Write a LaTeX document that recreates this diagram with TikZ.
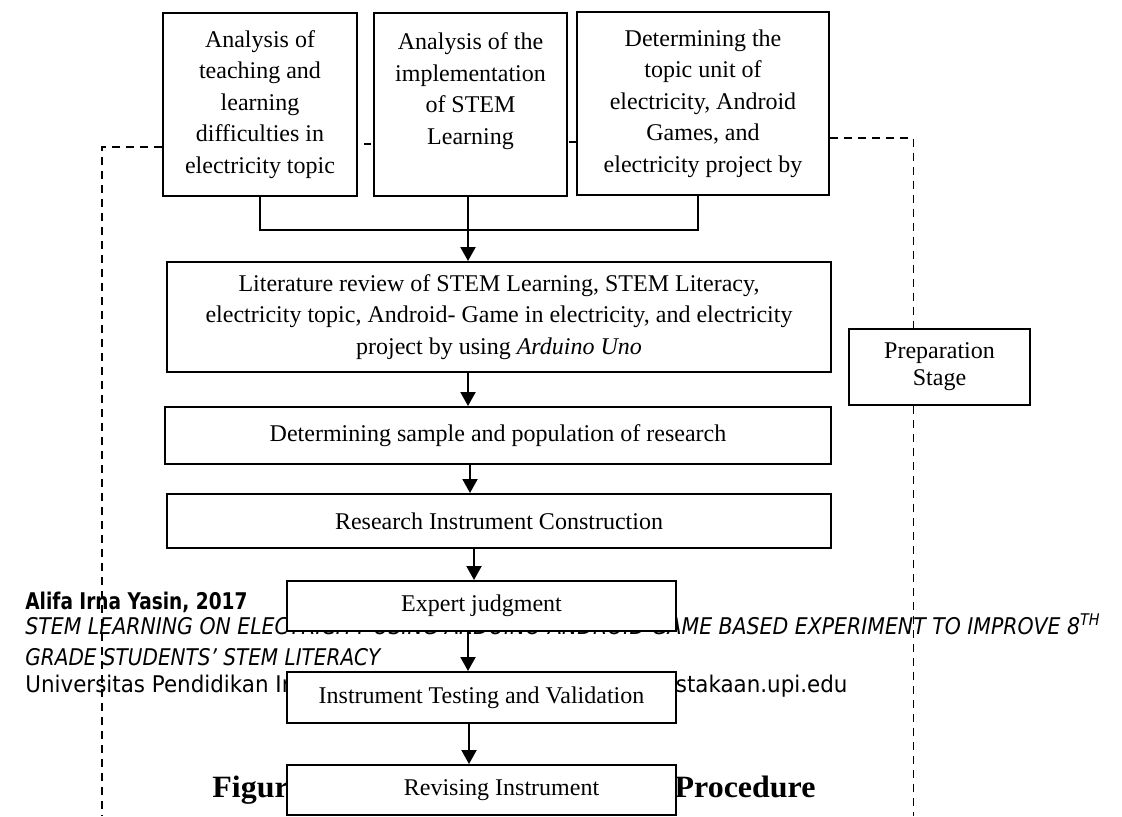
\documentclass[tikz,border=0pt]{standalone}
\usepackage{fontspec}
\usepackage{graphicx}
\setmainfont{Liberation Serif}
\newfontfamily\footfont{DejaVu Sans}
\usetikzlibrary{arrows.meta}
\newcommand\fitw[2]{\resizebox{#1}{\height}{#2}}
\begin{document}
\begin{tikzpicture}[x=0.5pt,y=-0.5pt,
  box/.style={draw,line width=1pt,fill=white,align=center,inner sep=0pt,
    font=\fontsize{12}{15.75}\selectfont},
  conn/.style={line width=1pt},
  arr/.style={line width=1pt,-{Triangle[width=7.5pt,length=7pt]}},
  dashline/.style={line width=0.75pt,dash pattern=on 4pt off 3pt},
  foot/.style={anchor=base west,inner sep=0pt}]
\fill[white] (0,0) rectangle (1122,816);
\useasboundingbox (0,0) rectangle (1122,816);

% page footer text lying under the figure
\node[foot] (f1) at (25,609) {\fitw{111pt}{\footfont\bfseries\fontsize{11.5}{14}\selectfont Alifa Irna Yasin, 2017}};
\node[foot] (f2) at (25,634) {\fitw{537.5pt}{\footfont\itshape\fontsize{11.5}{14}\selectfont STEM LEARNING ON ELECTRICITY USING ARDUINO ANDROID GAME BASED EXPERIMENT TO IMPROVE 8\textsuperscript{TH}}};
\node[foot] (f3) at (25,665) {\fitw{177.5pt}{\footfont\itshape\fontsize{11.5}{14}\selectfont GRADE STUDENTS’ STEM LITERACY}};
\node[foot] (f4) at (25,692) {\fitw{411pt}{\footfont\fontsize{11.5}{14}\selectfont Universitas Pendidikan Indonesia | repository.upi.edu | perpustakaan.upi.edu}};
\node[foot] (cap) at (212,797) {\fitw{301.5pt}{\fontsize{15.5}{18}\selectfont\bfseries Figure 3.1 Flowchart of Research Procedure}};

% boxes
\node[box,minimum width=97pt,minimum height=91.5pt] (b1) at (260,104.5)
  {Analysis of\\teaching and\\learning\\difficulties in\\electricity topic};
\node[box,minimum width=96.5pt,minimum height=91.5pt] (b2) at (470.5,104.5)
  {Analysis of the\\implementation\\of STEM\\Learning\\\mbox{}};
\node[box,minimum width=126pt,minimum height=91.5pt] (b3) at (703,103.5)
  {Determining the\\topic unit of\\electricity, Android\\Games, and\\electricity project by};
\node[box,minimum width=332pt,minimum height=55pt] (lit) at (499,317)
  {Literature review of STEM Learning, STEM Literacy,\\electricity topic, Android- Game in electricity, and electricity\\project by using \textit{Arduino Uno}};
\node[box,minimum width=333pt,minimum height=28.5pt] (ds) at (498,435.5)
  {Determining sample and population of research};
\node[box,minimum width=332pt,minimum height=27pt] (ric) at (499,521)
  {Research Instrument Construction};
\node[box,minimum width=194.5pt,minimum height=25pt] (exp) at (481.5,606)
  {Expert judgment};
\node[box,minimum width=194.5pt,minimum height=25.5pt] (tst) at (481.5,697.5)
  {Instrument Testing and Validation};
\node[box,minimum width=194.5pt,minimum height=25pt] (rev) at (481.5,790)
  {\hspace*{20pt}Revising Instrument};
\node[box,minimum width=90.5pt,minimum height=38pt,font=\fontsize{12}{13.5}\selectfont] (prep) at (939.5,367)
  {Preparation\\Stage};

% dashed stage bracket
\coordinate (lc) at (102,147);
\coordinate (lb) at (102,816);
\draw[dashline] ([yshift=-21.25pt]b1.west) -- (lc) -- (lb);
\coordinate (rc) at (913.5,138);
\coordinate (rb) at (913.5,816);
\draw[dashline] ([yshift=-17.25pt]b3.east) -- (rc) -- (rc |- prep.north);
\draw[dashline] (rc |- prep.south) -- (rb);

% small stray ticks
\draw[line width=0.75pt] ([xshift=3pt,yshift=-19.75pt]b1.east) -- ++(3.5pt,0);
\draw[line width=0.75pt] ([xshift=-3.5pt,yshift=-19.25pt]b3.west) -- ++(3.5pt,0);

% connectors
\coordinate (hl) at (260,230);
\coordinate (hr) at (698,230);
\draw[conn] (b1.south) -- (hl) -- (hr) -- ([xshift=-2.5pt]b3.south);
\draw[arr] ([xshift=-1.25pt]b2.south) -- ([xshift=-1.25pt]b2.south |- lit.north);
\draw[arr] ([xshift=-15.5pt]lit.south) -- ([xshift=-15.5pt]lit.south |- ds.north);
\draw[arr] ([xshift=-14pt]ds.south) -- ([xshift=-14pt]ds.south |- ric.north);
\draw[arr] ([xshift=-12.5pt]ric.south) -- ([xshift=-12.5pt]ric.south |- exp.north);
\draw[arr] ([xshift=-6.75pt]exp.south) -- ([xshift=-6.75pt]exp.south |- tst.north);
\draw[arr] ([xshift=-6.25pt]tst.south) -- ([xshift=-6.25pt]tst.south |- rev.north);
\end{tikzpicture}
\end{document}
